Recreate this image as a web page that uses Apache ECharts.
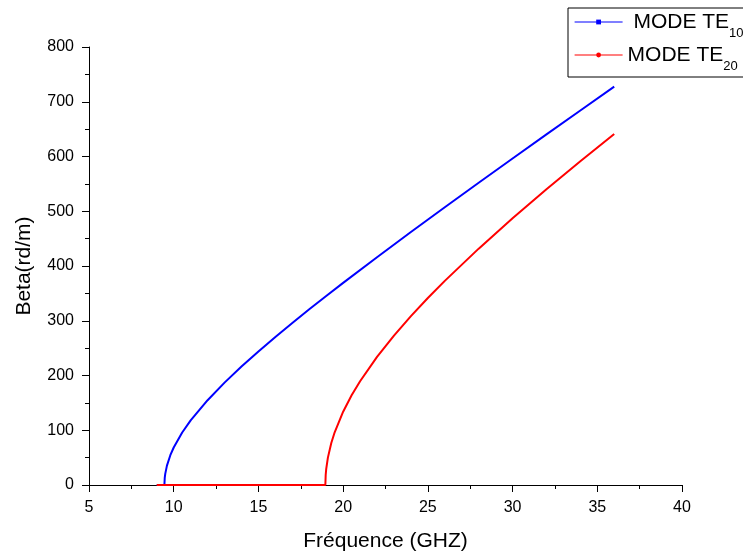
<!DOCTYPE html>
<html>
<head>
<meta charset="utf-8">
<script src="https://cdn.jsdelivr.net/npm/echarts@6/dist/echarts.min.js"></script>
<style>
  html, body { margin: 0; padding: 0; background: #fff; }
  #chart { width: 743px; height: 555px; }
</style>
</head>
<body>
<div id="chart"></div>
<script>
// frequences (GHz) et beta (rd/m)
var freqTE10 = [9, 9.45, 9.47, 9.5, 9.6, 9.8, 10, 10.5, 11, 12, 13, 14, 15, 16, 17, 18, 19, 20, 22, 24, 26, 28, 30, 32, 34, 36];
var betaTE10 = [0, 0, 12.9, 20.4, 35.4, 54.4, 68.5, 95.9, 117.9, 154.9, 187.0, 216.3, 244.0, 270.4, 296.0, 320.9, 345.2, 369.2, 416.1, 462.1, 507.3, 552.0, 596.3, 640.3, 684.0, 727.6];

var freqTE20 = [9, 18.95, 18.97, 19, 19.1, 19.3, 19.5, 20, 20.5, 21, 22, 23, 24, 25, 26, 28, 30, 32, 34, 36];
var betaTE20 = [0, 0, 18.3, 28.9, 50.0, 76.6, 96.3, 133.9, 163.8, 189.5, 234.1, 273.0, 308.5, 341.5, 372.8, 431.7, 487.1, 540.1, 591.2, 641.1];

function zip(xs, ys) {
  return xs.map(function (x, i) { return [x, ys[i]]; });
}

var chart = echarts.init(document.getElementById('chart'), null, { renderer: 'canvas' });

var axisCommon = {
  axisLine: { show: true, onZero: false, lineStyle: { color: '#000', width: 1 } },
  axisTick: { show: true, inside: false, length: 7, lineStyle: { color: '#000' } },
  minorTick: { show: true, splitNumber: 2, length: 4, lineStyle: { color: '#000' } },
  splitLine: { show: false },
  axisLabel: { color: '#000', fontSize: 16, margin: 15, fontFamily: 'Liberation Sans' },
  nameTextStyle: { color: '#000', fontSize: 21, fontFamily: 'Liberation Sans' },
  nameLocation: 'middle'
};

chart.setOption({
  animation: false,
  backgroundColor: '#fff',
  textStyle: { fontFamily: 'Liberation Sans' },
  grid: { left: 89, right: 61, top: 47, bottom: 70, outerBoundsMode: 'none' },
  legend: {
    left: 568,
    top: 8,
    orient: 'vertical',
    itemGap: 0,
    itemWidth: 48,
    itemHeight: 6,
    padding: [3, 14, 0, 6],
    borderColor: '#000',
    borderWidth: 1,
    lineStyle: { width: 1.2 },
    formatter: function (name) {
      return name === 'TE10' ? '{m| MODE TE}{s|10}' : '{m|MODE TE}{s|20}';
    },
    textStyle: {
      rich: {
        m: { fontSize: 21, lineHeight: 22, color: '#000', padding: [1, 0, 0, 0], verticalAlign: 'top', fontFamily: 'Liberation Sans' },
        s: { fontSize: 13, lineHeight: 14, color: '#000', padding: [16, 0, 4, 0], verticalAlign: 'top', fontFamily: 'Liberation Sans' }
      }
    },
    data: ['TE10', 'TE20']
  },
  xAxis: Object.assign({}, axisCommon, {
    type: 'value',
    min: 5,
    max: 40,
    interval: 5,
    name: 'Fréquence (GHZ)',
    nameGap: 46
  }),
  yAxis: Object.assign({}, axisCommon, {
    type: 'value',
    min: 0,
    max: 800,
    interval: 100,
    name: 'Beta(rd/m)',
    nameGap: 54,
    nameRotate: 90
  }),
  series: [
    {
      name: 'TE10',
      type: 'line',
      data: zip(freqTE10, betaTE10),
      showSymbol: false,
      symbol: 'rect',
      symbolSize: 5,
      itemStyle: { color: '#0000ff' },
      lineStyle: { color: '#0000ff', width: 2 }
    },
    {
      name: 'TE20',
      type: 'line',
      data: zip(freqTE20, betaTE20),
      showSymbol: false,
      symbol: 'circle',
      symbolSize: 5,
      itemStyle: { color: '#ff0000' },
      lineStyle: { color: '#ff0000', width: 2 }
    }
  ]
});
</script>
</body>
</html>
